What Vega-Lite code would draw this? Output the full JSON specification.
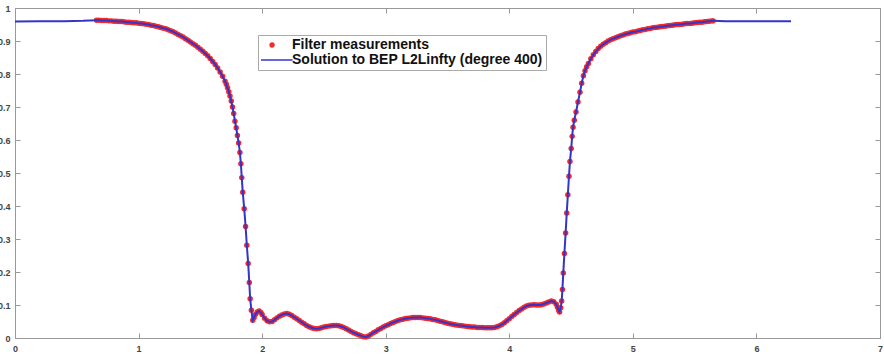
{
  "$schema": "https://vega.github.io/schema/vega-lite/v6.json",
  "width": 865,
  "height": 330,
  "autosize": {"type": "none"},
  "padding": {"left": 15, "top": 8, "right": 4, "bottom": 18},
  "background": "white",
  "data": {"values": [
    {"x":0,"y":0.959,"m":0},{"x":0.2,"y":0.960,"m":0},{"x":0.4,"y":0.960,"m":0},{"x":0.55,"y":0.961,"m":0},
    {"x":0.66,"y":0.963,"m":1},{"x":0.68,"y":0.963,"m":1},{"x":0.70,"y":0.962,"m":1},{"x":0.72,"y":0.962,"m":1},{"x":0.74,"y":0.962,"m":1},
    {"x":0.76,"y":0.961,"m":1},{"x":0.78,"y":0.961,"m":1},{"x":0.80,"y":0.960,"m":1},{"x":0.82,"y":0.960,"m":1},{"x":0.84,"y":0.959,"m":1},
    {"x":0.86,"y":0.959,"m":1},{"x":0.88,"y":0.958,"m":1},{"x":0.90,"y":0.957,"m":1},{"x":0.92,"y":0.957,"m":1},{"x":0.94,"y":0.956,"m":1},
    {"x":0.96,"y":0.955,"m":1},{"x":0.98,"y":0.955,"m":1},{"x":1.00,"y":0.954,"m":1},{"x":1.02,"y":0.953,"m":1},{"x":1.04,"y":0.952,"m":1},
    {"x":1.06,"y":0.951,"m":1},{"x":1.08,"y":0.950,"m":1},{"x":1.10,"y":0.948,"m":1},{"x":1.12,"y":0.947,"m":1},{"x":1.14,"y":0.945,"m":1},
    {"x":1.16,"y":0.943,"m":1},{"x":1.18,"y":0.941,"m":1},{"x":1.20,"y":0.939,"m":1},{"x":1.22,"y":0.937,"m":1},{"x":1.24,"y":0.934,"m":1},
    {"x":1.26,"y":0.931,"m":1},{"x":1.28,"y":0.928,"m":1},{"x":1.30,"y":0.924,"m":1},{"x":1.32,"y":0.920,"m":1},{"x":1.34,"y":0.916,"m":1},
    {"x":1.36,"y":0.912,"m":1},{"x":1.38,"y":0.907,"m":1},{"x":1.40,"y":0.902,"m":1},{"x":1.42,"y":0.897,"m":1},{"x":1.44,"y":0.892,"m":1},
    {"x":1.46,"y":0.887,"m":1},{"x":1.48,"y":0.881,"m":1},{"x":1.50,"y":0.875,"m":1},{"x":1.52,"y":0.869,"m":1},{"x":1.54,"y":0.862,"m":1},
    {"x":1.56,"y":0.855,"m":1},{"x":1.58,"y":0.847,"m":1},{"x":1.60,"y":0.838,"m":1},{"x":1.62,"y":0.829,"m":1},{"x":1.64,"y":0.818,"m":1},
    {"x":1.66,"y":0.806,"m":1},{"x":1.68,"y":0.793,"m":1},{"x":1.70,"y":0.778,"m":1},{"x":1.71,"y":0.769,"m":1},{"x":1.72,"y":0.758,"m":1},
    {"x":1.73,"y":0.746,"m":1},{"x":1.74,"y":0.733,"m":1},{"x":1.75,"y":0.718,"m":1},{"x":1.76,"y":0.700,"m":1},{"x":1.77,"y":0.680,"m":1},
    {"x":1.78,"y":0.657,"m":1},{"x":1.79,"y":0.637,"m":1},{"x":1.80,"y":0.614,"m":1},{"x":1.81,"y":0.591,"m":1},{"x":1.82,"y":0.562,"m":1},
    {"x":1.828,"y":0.528,"m":1},{"x":1.835,"y":0.486,"m":1},{"x":1.843,"y":0.442,"m":1},{"x":1.855,"y":0.392,"m":1},{"x":1.866,"y":0.338,"m":1},
    {"x":1.876,"y":0.281,"m":1},{"x":1.887,"y":0.226,"m":1},{"x":1.896,"y":0.168,"m":1},{"x":1.903,"y":0.119,"m":1},{"x":1.913,"y":0.084,"m":1},
    {"x":1.924,"y":0.054,"m":1},{"x":1.935,"y":0.062,"m":1},{"x":1.945,"y":0.071,"m":1},{"x":1.96,"y":0.079,"m":1},{"x":1.975,"y":0.082,"m":1},
    {"x":1.99,"y":0.077,"m":1},{"x":2.00,"y":0.071,"m":1},
    {"x":2.02,"y":0.060,"m":1},{"x":2.04,"y":0.052,"m":1},{"x":2.06,"y":0.049,"m":1},{"x":2.08,"y":0.050,"m":1},{"x":2.10,"y":0.055,"m":1},
    {"x":2.12,"y":0.061,"m":1},{"x":2.14,"y":0.066,"m":1},{"x":2.16,"y":0.070,"m":1},{"x":2.18,"y":0.073,"m":1},{"x":2.20,"y":0.074,"m":1},
    {"x":2.22,"y":0.072,"m":1},{"x":2.24,"y":0.068,"m":1},{"x":2.26,"y":0.063,"m":1},{"x":2.28,"y":0.058,"m":1},{"x":2.30,"y":0.053,"m":1},
    {"x":2.32,"y":0.048,"m":1},{"x":2.34,"y":0.043,"m":1},{"x":2.36,"y":0.038,"m":1},{"x":2.38,"y":0.034,"m":1},{"x":2.40,"y":0.031,"m":1},
    {"x":2.42,"y":0.029,"m":1},{"x":2.44,"y":0.028,"m":1},{"x":2.46,"y":0.029,"m":1},{"x":2.48,"y":0.031,"m":1},{"x":2.50,"y":0.033,"m":1},
    {"x":2.52,"y":0.035,"m":1},{"x":2.54,"y":0.036,"m":1},{"x":2.56,"y":0.037,"m":1},{"x":2.58,"y":0.038,"m":1},{"x":2.60,"y":0.038,"m":1},
    {"x":2.62,"y":0.037,"m":1},{"x":2.64,"y":0.035,"m":1},{"x":2.66,"y":0.032,"m":1},{"x":2.68,"y":0.028,"m":1},{"x":2.70,"y":0.024,"m":1},
    {"x":2.72,"y":0.020,"m":1},{"x":2.74,"y":0.016,"m":1},{"x":2.76,"y":0.013,"m":1},{"x":2.78,"y":0.010,"m":1},{"x":2.80,"y":0.007,"m":1},
    {"x":2.82,"y":0.004,"m":1},{"x":2.84,"y":0.003,"m":1},{"x":2.86,"y":0.006,"m":1},{"x":2.88,"y":0.011,"m":1},{"x":2.90,"y":0.016,"m":1},
    {"x":2.92,"y":0.020,"m":1},{"x":2.94,"y":0.025,"m":1},{"x":2.96,"y":0.029,"m":1},{"x":2.98,"y":0.033,"m":1},{"x":3.00,"y":0.037,"m":1},
    {"x":3.02,"y":0.040,"m":1},{"x":3.04,"y":0.044,"m":1},{"x":3.06,"y":0.047,"m":1},{"x":3.08,"y":0.050,"m":1},{"x":3.10,"y":0.053,"m":1},
    {"x":3.12,"y":0.055,"m":1},{"x":3.14,"y":0.057,"m":1},{"x":3.16,"y":0.059,"m":1},{"x":3.18,"y":0.060,"m":1},{"x":3.20,"y":0.061,"m":1},
    {"x":3.22,"y":0.062,"m":1},{"x":3.24,"y":0.062,"m":1},{"x":3.26,"y":0.062,"m":1},{"x":3.28,"y":0.062,"m":1},{"x":3.30,"y":0.061,"m":1},
    {"x":3.32,"y":0.060,"m":1},{"x":3.34,"y":0.059,"m":1},{"x":3.36,"y":0.058,"m":1},{"x":3.38,"y":0.056,"m":1},{"x":3.40,"y":0.055,"m":1},
    {"x":3.42,"y":0.053,"m":1},{"x":3.44,"y":0.051,"m":1},{"x":3.46,"y":0.049,"m":1},{"x":3.48,"y":0.047,"m":1},{"x":3.50,"y":0.045,"m":1},
    {"x":3.52,"y":0.043,"m":1},{"x":3.54,"y":0.042,"m":1},{"x":3.56,"y":0.040,"m":1},{"x":3.58,"y":0.039,"m":1},{"x":3.60,"y":0.038,"m":1},
    {"x":3.62,"y":0.037,"m":1},{"x":3.64,"y":0.036,"m":1},{"x":3.66,"y":0.035,"m":1},{"x":3.68,"y":0.034,"m":1},{"x":3.70,"y":0.033,"m":1},
    {"x":3.72,"y":0.033,"m":1},{"x":3.74,"y":0.032,"m":1},{"x":3.76,"y":0.032,"m":1},{"x":3.78,"y":0.032,"m":1},{"x":3.80,"y":0.031,"m":1},
    {"x":3.82,"y":0.031,"m":1},{"x":3.84,"y":0.031,"m":1},{"x":3.86,"y":0.031,"m":1},{"x":3.88,"y":0.032,"m":1},{"x":3.90,"y":0.034,"m":1},
    {"x":3.92,"y":0.037,"m":1},{"x":3.94,"y":0.041,"m":1},{"x":3.96,"y":0.046,"m":1},{"x":3.98,"y":0.052,"m":1},{"x":4.00,"y":0.058,"m":1},
    {"x":4.02,"y":0.065,"m":1},{"x":4.04,"y":0.071,"m":1},{"x":4.06,"y":0.077,"m":1},{"x":4.08,"y":0.083,"m":1},{"x":4.10,"y":0.088,"m":1},
    {"x":4.12,"y":0.093,"m":1},{"x":4.14,"y":0.097,"m":1},{"x":4.16,"y":0.099,"m":1},{"x":4.18,"y":0.100,"m":1},{"x":4.20,"y":0.101,"m":1},
    {"x":4.22,"y":0.100,"m":1},{"x":4.24,"y":0.100,"m":1},{"x":4.26,"y":0.101,"m":1},{"x":4.28,"y":0.103,"m":1},{"x":4.30,"y":0.106,"m":1},
    {"x":4.32,"y":0.109,"m":1},{"x":4.34,"y":0.112,"m":1},{"x":4.36,"y":0.110,"m":1},{"x":4.38,"y":0.102,"m":1},{"x":4.39,"y":0.093,"m":1},
    {"x":4.40,"y":0.083,"m":1},{"x":4.407,"y":0.079,"m":1},{"x":4.416,"y":0.092,"m":1},{"x":4.424,"y":0.112,"m":1},{"x":4.430,"y":0.147,"m":1},
    {"x":4.437,"y":0.197,"m":1},{"x":4.446,"y":0.256,"m":1},{"x":4.456,"y":0.318,"m":1},{"x":4.465,"y":0.379,"m":1},{"x":4.474,"y":0.434,"m":1},
    {"x":4.483,"y":0.490,"m":1},{"x":4.491,"y":0.535,"m":1},{"x":4.501,"y":0.574,"m":1},{"x":4.509,"y":0.611,"m":1},{"x":4.516,"y":0.639,"m":1},
    {"x":4.526,"y":0.660,"m":1},{"x":4.540,"y":0.685,"m":1},{"x":4.556,"y":0.715,"m":1},{"x":4.572,"y":0.745,"m":1},{"x":4.586,"y":0.772,"m":1},
    {"x":4.600,"y":0.795,"m":1},{"x":4.613,"y":0.810,"m":1},{"x":4.626,"y":0.822,"m":1},{"x":4.64,"y":0.832,"m":1},{"x":4.66,"y":0.846,"m":1},
    {"x":4.68,"y":0.858,"m":1},{"x":4.70,"y":0.868,"m":1},{"x":4.72,"y":0.877,"m":1},{"x":4.74,"y":0.884,"m":1},{"x":4.76,"y":0.890,"m":1},
    {"x":4.78,"y":0.895,"m":1},{"x":4.80,"y":0.900,"m":1},{"x":4.82,"y":0.904,"m":1},{"x":4.84,"y":0.907,"m":1},{"x":4.86,"y":0.910,"m":1},
    {"x":4.88,"y":0.913,"m":1},{"x":4.90,"y":0.916,"m":1},{"x":4.92,"y":0.918,"m":1},{"x":4.94,"y":0.921,"m":1},{"x":4.96,"y":0.923,"m":1},
    {"x":4.98,"y":0.925,"m":1},{"x":5.00,"y":0.927,"m":1},{"x":5.02,"y":0.928,"m":1},{"x":5.04,"y":0.930,"m":1},{"x":5.06,"y":0.932,"m":1},
    {"x":5.08,"y":0.934,"m":1},{"x":5.10,"y":0.935,"m":1},{"x":5.12,"y":0.937,"m":1},{"x":5.14,"y":0.938,"m":1},{"x":5.16,"y":0.940,"m":1},
    {"x":5.18,"y":0.941,"m":1},{"x":5.20,"y":0.942,"m":1},{"x":5.22,"y":0.943,"m":1},{"x":5.24,"y":0.944,"m":1},{"x":5.26,"y":0.945,"m":1},
    {"x":5.28,"y":0.946,"m":1},{"x":5.30,"y":0.947,"m":1},{"x":5.32,"y":0.948,"m":1},{"x":5.34,"y":0.949,"m":1},{"x":5.36,"y":0.950,"m":1},
    {"x":5.38,"y":0.950,"m":1},{"x":5.40,"y":0.951,"m":1},{"x":5.42,"y":0.952,"m":1},{"x":5.44,"y":0.953,"m":1},{"x":5.46,"y":0.953,"m":1},
    {"x":5.48,"y":0.954,"m":1},{"x":5.50,"y":0.955,"m":1},{"x":5.52,"y":0.956,"m":1},{"x":5.54,"y":0.957,"m":1},{"x":5.56,"y":0.957,"m":1},
    {"x":5.58,"y":0.958,"m":1},{"x":5.60,"y":0.959,"m":1},{"x":5.62,"y":0.960,"m":1},{"x":5.64,"y":0.961,"m":1},{"x":5.65,"y":0.961,"m":1},
    {"x":5.75,"y":0.960,"m":0},{"x":6.0,"y":0.960,"m":0},{"x":6.28,"y":0.960,"m":0}
  ]},
  "layer": [
    {
      "transform": [{"filter": "datum.m == 1"}],
      "mark": {"type": "point", "filled": true, "size": 30, "opacity": 1},
      "encoding": {
        "x": {"field": "x", "type": "quantitative",
              "scale": {"domain": [0, 7], "nice": false, "zero": false},
              "axis": {"orient": "bottom", "values": [0,1,2,3,4,5,6,7], "format": "d", "title": null, "labelPadding": 11, "labelFlush": false, "labelOverlap": false}},
        "y": {"field": "y", "type": "quantitative",
              "scale": {"domain": [0, 1], "nice": false},
              "axis": {"orient": "left", "values": [0,0.1,0.2,0.3,0.4,0.5,0.6,0.7,0.8,0.9,1], "format": "~g", "title": null, "labelPadding": 10, "labelOverlap": false}},
        "color": {"datum": "Filter measurements",
                  "scale": {"domain": ["Filter measurements", "Solution to BEP L2Linfty (degree 400)"], "range": ["#f42a2a", "#3434c8"]},
                  "legend": {
                    "title": null, "orient": "none", "legendX": 243, "legendY": 27,
                    "strokeColor": "#aaaaaa", "fillColor": "white", "padding": 3,
                    "labelFont": "Liberation Sans", "labelFontSize": 14, "labelFontWeight": "bold", "labelColor": "#111111",
                    "labelOffset": 2, "symbolSize": 756, "symbolStrokeWidth": 1.5, "clipHeight": 14, "rowPadding": 1, "symbolOffset": 0,
                    "labelLimit": 400,
                    "encode": {"symbols": {"update": {
                      "shape": {"signal": "datum.value === 'Filter measurements' ? 'M-0.39,0A0.14,0.14,0,1,0,-0.11,0A0.14,0.14,0,1,0,-0.39,0Z' : 'M-1.24,0H1.24'"},
                      "stroke": {"scale": "color", "field": "value"},
                      "fill": {"scale": "color", "field": "value"},
                      "opacity": {"value": 1}
                    }}}
                  }}
      }
    },
    {
      "mark": {"type": "line", "strokeWidth": 2},
      "encoding": {
        "x": {"field": "x", "type": "quantitative",
              "scale": {"domain": [0, 7], "nice": false, "zero": false},
              "axis": {"orient": "top", "values": [0,1,2,3,4,5,6,7], "labels": false, "title": null}},
        "y": {"field": "y", "type": "quantitative",
              "scale": {"domain": [0, 1], "nice": false},
              "axis": {"orient": "right", "values": [0,0.1,0.2,0.3,0.4,0.5,0.6,0.7,0.8,0.9,1], "labels": false, "title": null}},
        "color": {"datum": "Solution to BEP L2Linfty (degree 400)",
                  "legend": {
                    "title": null, "orient": "none", "legendX": 243, "legendY": 27,
                    "strokeColor": "#aaaaaa", "fillColor": "white", "padding": 3,
                    "labelFont": "Liberation Sans", "labelFontSize": 14, "labelFontWeight": "bold", "labelColor": "#111111",
                    "labelOffset": 2, "symbolSize": 756, "symbolStrokeWidth": 1.5, "clipHeight": 14, "rowPadding": 1, "symbolOffset": 0,
                    "labelLimit": 400,
                    "encode": {"symbols": {"update": {
                      "shape": {"signal": "datum.value === 'Filter measurements' ? 'M-0.39,0A0.14,0.14,0,1,0,-0.11,0A0.14,0.14,0,1,0,-0.39,0Z' : 'M-1.24,0H1.24'"},
                      "stroke": {"scale": "color", "field": "value"},
                      "fill": {"scale": "color", "field": "value"},
                      "opacity": {"value": 1}
                    }}}
                  }}
      }
    }
  ],
  "resolve": {"axis": {"x": "independent", "y": "independent"}},
  "config": {
    "view": {"stroke": null},
    "axis": {
      "grid": false, "domainColor": "#999999", "tickColor": "#999999", "tickSize": -5,
      "labelFont": "Liberation Sans", "labelFontSize": 9, "labelFontWeight": "bold", "labelColor": "#444444"
    }
  }
}
